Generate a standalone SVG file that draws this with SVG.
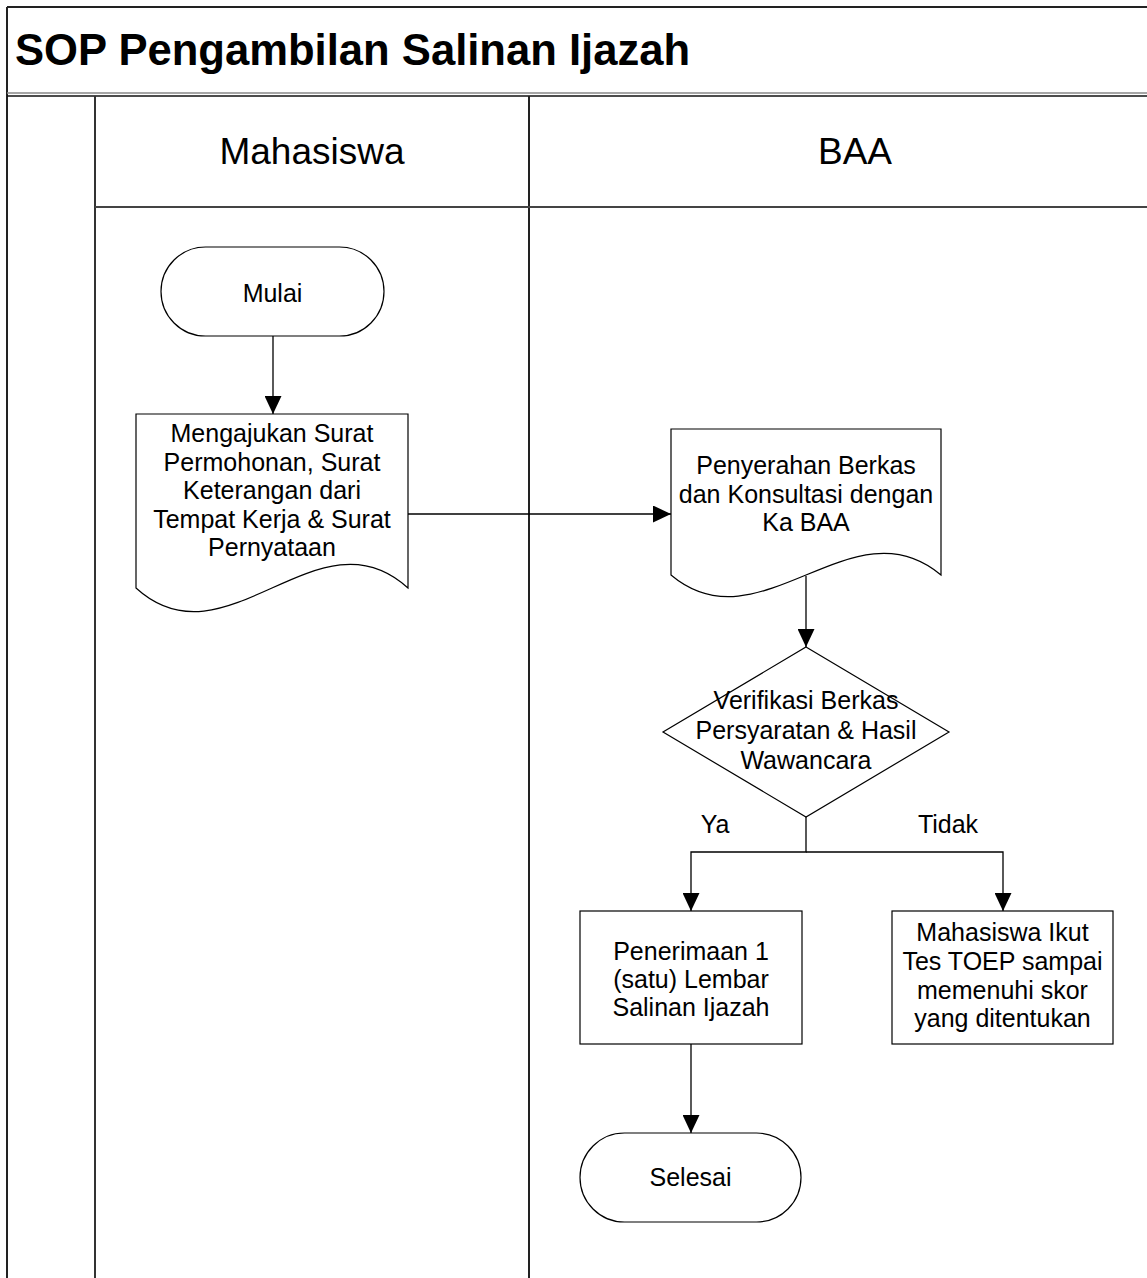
<svg xmlns="http://www.w3.org/2000/svg" width="1147" height="1278" viewBox="0 0 1147 1278">
<style>
.frame{fill:none;stroke:#222;stroke-width:2}
.shape{fill:#fff;stroke:#000;stroke-width:1.2}
.conn{fill:none;stroke:#000;stroke-width:1.3}
.t{font-family:"Liberation Sans",Arial,sans-serif;font-size:25px;fill:#000;text-anchor:middle}
.hdr{font-family:"Liberation Sans",Arial,sans-serif;font-size:37px;fill:#000;text-anchor:middle}
.title{font-family:"Liberation Sans",Arial,sans-serif;font-size:43.6px;font-weight:bold;fill:#000}
</style>
<defs>
<marker id="arr" markerUnits="userSpaceOnUse" markerWidth="18" markerHeight="17" refX="18" refY="8.5" orient="auto">
<path d="M0,0 L18,8.5 L0,17 z" fill="#000"/>
</marker>
</defs>
<rect width="1147" height="1278" fill="#fff"/>
<g id="frame">
<line class="frame" x1="7" y1="7" x2="1147" y2="7"/>
<line class="frame" x1="7" y1="7" x2="7" y2="1278"/>
<line x1="7" y1="93" x2="1147" y2="93" stroke="#888" stroke-width="1.5"/>
<line x1="7" y1="96" x2="1147" y2="96" stroke="#111" stroke-width="1.5"/>
<line x1="95" y1="96" x2="95" y2="1278" stroke="#333" stroke-width="2"/>
<line x1="529" y1="96" x2="529" y2="1278" stroke="#222" stroke-width="2"/>
<line x1="95" y1="207" x2="1147" y2="207" stroke="#444" stroke-width="2"/>
<text class="title" x="15" y="65">SOP Pengambilan Salinan Ijazah</text>
</g>
<g id="lane-mahasiswa"><text class="hdr" x="312" y="164">Mahasiswa</text></g>
<g id="lane-baa"><text class="hdr" x="855" y="164">BAA</text></g>
<g id="connectors">
<line class="conn" x1="273" y1="336" x2="273" y2="414" marker-end="url(#arr)"/>
<line class="conn" x1="408" y1="514" x2="671" y2="514" marker-end="url(#arr)"/>
<line class="conn" x1="806" y1="576" x2="806" y2="647" marker-end="url(#arr)"/>
<polyline class="conn" points="806,817 806,852 691,852 691,911" marker-end="url(#arr)"/>
<polyline class="conn" points="806,852 1003,852 1003,911" marker-end="url(#arr)"/>
<line class="conn" x1="691" y1="1044" x2="691" y2="1133" marker-end="url(#arr)"/>
<text class="t" x="715" y="833">Ya</text>
<text class="t" x="948" y="833">Tidak</text>
</g>
<g id="mulai">
<rect class="shape" x="161" y="247" width="223" height="89" rx="44.5" ry="44.5"/>
<text class="t" x="272.5" y="302">Mulai</text>
</g>
<g id="mengajukan">
<path class="shape" d="M136,414 H408 V588 C318,506 226,670 136,588 Z"/>
<text class="t" x="272" y="442">Mengajukan Surat</text>
<text class="t" x="272" y="470.5">Permohonan, Surat</text>
<text class="t" x="272" y="499">Keterangan dari</text>
<text class="t" x="272" y="527.5">Tempat Kerja &amp; Surat</text>
<text class="t" x="272" y="556">Pernyataan</text>
</g>
<g id="penyerahan">
<path class="shape" d="M671,429 H941 V575 C852,500 760,650 671,575 Z"/>
<text class="t" x="806" y="474">Penyerahan Berkas</text>
<text class="t" x="806" y="502.5">dan Konsultasi dengan</text>
<text class="t" x="806" y="531">Ka BAA</text>
</g>
<g id="verifikasi">
<path class="shape" d="M806,647 L949,732 L806,817 L663,732 Z"/>
<text class="t" x="806" y="709">Verifikasi Berkas</text>
<text class="t" x="806" y="739">Persyaratan &amp; Hasil</text>
<text class="t" x="806" y="769">Wawancara</text>
</g>
<g id="penerimaan">
<rect class="shape" x="580" y="911" width="222" height="133"/>
<text class="t" x="691" y="960">Penerimaan 1</text>
<text class="t" x="691" y="988">(satu) Lembar</text>
<text class="t" x="691" y="1016">Salinan Ijazah</text>
</g>
<g id="tes-toep">
<rect class="shape" x="892" y="911" width="221" height="133"/>
<text class="t" x="1002.5" y="941">Mahasiswa Ikut</text>
<text class="t" x="1002.5" y="970">Tes TOEP sampai</text>
<text class="t" x="1002.5" y="999">memenuhi skor</text>
<text class="t" x="1002.5" y="1027">yang ditentukan</text>
</g>
<g id="selesai">
<rect class="shape" x="580" y="1133" width="221" height="89" rx="44.5" ry="44.5"/>
<text class="t" x="690.5" y="1186">Selesai</text>
</g>
</svg>
